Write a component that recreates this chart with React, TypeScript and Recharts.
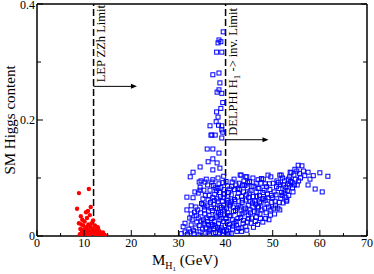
import React from 'react';
import {
  ScatterChart,
  Scatter,
  XAxis,
  YAxis,
  ReferenceLine,
  Label,
} from 'recharts';

// light singlet-like points (red dots)
const redPoints: [number, number][] = [
  [8.9, 0.074], [11.0, 0.081], [8.5, 0.047], [11.4, 0.05], [10.4, 0.041], [10.8, 0.043],
  [9.3, 0.034], [10.6, 0.031], [8.9, 0.022], [9.6, 0.028], [11.2, 0.036], [10.1, 0.025],
  [9.8, 0.018], [11.6, 0.022], [12.3, 0.018], [10.5, 0.015], [9.2, 0.012], [11.8, 0.013],
  [12.6, 0.012], [10.0, 0.008], [13.1, 0.01], [12.1, 0.008], [11.0, 0.01], [9.5, 0.006],
  [13.5, 0.006], [12.8, 0.005], [10.7, 0.004], [11.5, 0.005], [13.9, 0.003], [14.3, 0.002],
  [9.1, 0.003], [12.4, 0.002], [11.2, 0.002], [10.3, 0.001], [13.3, 0.002], [9.7, 0.001],
  [14.0, 0.006], [12.9, 0.015], [11.9, 0.027], [10.9, 0.02], [9.4, 0.02], [10.2, 0.012],
  [12.2, 0.004], [13.7, 0.001], [11.7, 0.008], [9.9, 0.004], [10.6, 0.007], [12.7, 0.009],
  [13.0, 0.004], [14.5, 0.001], [11.3, 0.016], [10.4, 0.003], [9.6, 0.01], [12.5, 0.006],
];

// blue squares: the spike just below the DELPHI limit
const blueSpike: [number, number][] = [
  [39.5, 0.352], [39.0, 0.335], [38.4, 0.333], [38.6, 0.338], [38.1, 0.317], [39.2, 0.317],
  [37.3, 0.278], [38.6, 0.281], [38.8, 0.264], [39.2, 0.246], [38.6, 0.252], [38.2, 0.248],
  [39.4, 0.23], [38.1, 0.214], [39.0, 0.22], [38.4, 0.205], [38.0, 0.197], [38.5, 0.191],
  [39.2, 0.19], [36.7, 0.19], [39.2, 0.183], [39.4, 0.179], [37.8, 0.174], [36.9, 0.174],
  [37.1, 0.174], [39.2, 0.169], [36.1, 0.15], [37.3, 0.15], [38.6, 0.143], [37.3, 0.133],
  [36.3, 0.128], [38.2, 0.126], [34.6, 0.119], [38.8, 0.117], [37.3, 0.114], [33.1, 0.11],
];

// blue squares below 40 GeV
const blueLeft: [number, number][] = [
  [30.6, 0.004], [31.0, 0.016], [31.4, 0.022], [31.4, 0.007], [31.8, 0.067], [31.8, 0.045],
  [31.9, 0.003], [32.5, 0.102], [32.5, 0.007], [32.7, 0.052], [32.7, 0.038], [32.7, 0.019],
  [32.2, 0.012], [32.9, 0.028], [32.4, 0.031], [33.1, 0.066], [33.5, 0.076], [33.7, 0.05],
  [33.7, 0.014], [33.3, 0.004], [33.9, 0.024], [33.4, 0.041], [33.8, 0.035], [33.2, 0.009],
  [34.4, 0.093], [34.8, 0.095], [34.6, 0.084], [34.2, 0.074], [34.6, 0.079], [34.2, 0.031],
  [34.6, 0.007], [34.1, 0.045], [34.9, 0.056], [34.4, 0.018], [34.8, 0.026], [34.3, 0.002],
  [34.7, 0.04], [35.6, 0.093], [35.9, 0.098], [35.4, 0.079], [35.2, 0.064], [35.6, 0.05],
  [35.6, 0.038], [35.6, 0.019], [35.1, 0.012], [35.3, 0.028], [35.8, 0.005], [35.5, 0.045],
  [35.9, 0.031], [35.2, 0.054], [35.7, 0.07], [35.4, 0.022], [35.8, 0.014], [36.7, 0.079],
  [36.3, 0.062], [36.9, 0.048], [36.9, 0.016], [36.3, 0.007], [36.5, 0.035], [36.2, 0.025],
  [36.8, 0.058], [36.4, 0.043], [36.6, 0.002], [36.1, 0.052], [36.9, 0.03], [36.5, 0.07],
  [36.2, 0.088], [36.7, 0.011], [36.4, 0.02], [37.1, 0.093], [37.3, 0.097], [37.8, 0.083],
  [37.3, 0.066], [37.8, 0.036], [37.5, 0.055], [37.2, 0.044], [37.6, 0.025], [37.4, 0.013],
  [37.9, 0.006], [37.1, 0.03], [37.7, 0.072], [37.5, 0.004], [37.9, 0.048], [37.2, 0.02],
  [37.6, 0.061], [37.4, 0.087], [37.8, 0.017], [38.4, 0.1], [38.4, 0.059], [38.1, 0.078],
  [38.5, 0.04], [38.8, 0.028], [38.3, 0.015], [38.7, 0.005], [38.9, 0.068], [38.6, 0.09],
  [38.3, 0.047], [38.8, 0.052], [38.5, 0.021], [38.9, 0.01], [38.1, 0.033], [38.7, 0.075],
  [38.4, 0.082], [38.9, 0.037], [38.6, 0.012], [38.2, 0.064], [39.0, 0.084], [39.0, 0.041],
  [39.3, 0.06], [39.6, 0.025], [39.5, 0.008], [39.8, 0.072], [39.1, 0.014], [39.7, 0.045],
  [39.4, 0.092], [39.6, 0.053], [39.2, 0.031], [39.9, 0.018], [39.5, 0.066], [39.3, 0.003],
  [39.8, 0.036], [39.7, 0.08], [39.1, 0.049], [39.6, 0.103],
];

// blue squares above 40 GeV
const blueRight: [number, number][] = [
  [40.3, 0.062], [40.5, 0.04], [40.8, 0.02], [40.2, 0.01], [40.6, 0.075], [40.1, 0.03],
  [40.9, 0.052], [40.4, 0.086], [40.7, 0.005], [40.2, 0.048], [40.8, 0.035], [40.5, 0.068],
  [40.1, 0.094], [40.6, 0.015], [40.9, 0.081], [40.3, 0.025], [40.7, 0.058], [40.4, 0.002],
  [41.4, 0.093], [41.2, 0.071], [41.6, 0.05], [41.1, 0.035], [41.8, 0.022], [41.5, 0.012],
  [41.3, 0.06], [41.9, 0.08], [41.7, 0.042], [41.2, 0.004], [41.5, 0.028], [41.9, 0.063],
  [41.3, 0.085], [41.6, 0.017], [41.0, 0.055], [41.8, 0.098], [42.2, 0.088], [42.5, 0.067],
  [42.8, 0.053], [42.1, 0.044], [42.6, 0.03], [42.3, 0.019], [42.9, 0.091], [42.4, 0.008],
  [42.7, 0.074], [42.0, 0.06], [42.9, 0.038], [42.2, 0.025], [42.6, 0.082], [42.5, 0.048],
  [42.8, 0.013], [43.1, 0.105], [43.3, 0.105], [43.8, 0.076], [43.3, 0.014], [43.5, 0.058],
  [43.9, 0.045], [43.2, 0.032], [43.6, 0.088], [43.4, 0.068], [43.7, 0.022], [43.1, 0.05],
  [43.9, 0.095], [43.5, 0.038], [43.0, 0.08], [43.8, 0.027], [43.6, 0.062], [43.4, 0.008],
  [44.5, 0.102], [44.3, 0.102], [44.3, 0.062], [44.3, 0.016], [44.6, 0.083], [44.8, 0.053],
  [44.1, 0.041], [44.9, 0.03], [44.4, 0.071], [44.7, 0.092], [44.2, 0.048], [44.6, 0.024],
  [44.9, 0.066], [44.1, 0.087], [44.8, 0.036], [44.5, 0.01], [45.8, 0.1], [45.0, 0.074],
  [45.4, 0.022], [45.8, 0.05], [45.2, 0.06], [45.6, 0.085], [45.3, 0.04], [45.9, 0.068],
  [45.5, 0.031], [45.1, 0.094], [45.7, 0.057], [45.4, 0.078], [45.9, 0.015], [45.2, 0.045],
  [46.5, 0.091], [46.5, 0.076], [46.5, 0.033], [46.9, 0.097], [46.2, 0.06], [46.8, 0.05],
  [46.1, 0.042], [46.6, 0.068], [46.3, 0.025], [46.9, 0.082], [46.4, 0.055], [46.7, 0.04],
  [46.0, 0.086], [46.8, 0.02], [47.5, 0.091], [47.5, 0.057], [47.9, 0.024], [47.2, 0.07],
  [47.7, 0.045], [47.1, 0.082], [47.8, 0.064], [47.3, 0.038], [47.6, 0.099], [47.0, 0.05],
  [47.4, 0.03], [47.9, 0.075], [47.2, 0.059], [48.2, 0.079], [48.6, 0.04], [48.1, 0.065],
  [48.4, 0.09], [48.8, 0.055], [48.3, 0.048], [48.9, 0.072], [48.5, 0.03], [48.7, 0.085],
  [48.0, 0.098], [48.4, 0.062], [49.0, 0.105], [49.6, 0.102], [49.0, 0.066], [49.6, 0.045],
  [49.2, 0.028], [49.4, 0.08], [49.8, 0.058], [49.3, 0.09], [49.7, 0.07], [49.1, 0.05],
  [49.5, 0.036], [50.1, 0.091], [50.3, 0.076], [50.7, 0.071], [50.5, 0.06], [50.2, 0.048],
  [50.8, 0.085], [50.4, 0.038], [50.9, 0.095], [50.6, 0.052], [50.0, 0.066], [51.5, 0.105],
  [51.8, 0.105], [51.1, 0.048], [51.5, 0.045], [51.3, 0.082], [51.7, 0.065], [51.2, 0.092],
  [51.9, 0.075], [51.4, 0.058], [51.6, 0.088], [52.8, 0.084], [52.4, 0.074], [52.8, 0.066],
  [52.2, 0.057], [52.5, 0.095], [52.1, 0.1], [52.6, 0.079], [52.9, 0.06], [52.3, 0.088],
  [52.0, 0.07], [53.7, 0.11], [53.9, 0.109], [53.0, 0.062], [53.3, 0.098], [53.5, 0.088],
  [53.1, 0.078], [53.8, 0.094], [53.4, 0.07], [53.6, 0.102], [53.2, 0.09], [54.3, 0.076],
  [54.5, 0.105], [54.1, 0.092], [54.7, 0.115], [54.2, 0.083], [54.8, 0.098], [54.6, 0.088],
  [55.4, 0.122], [55.2, 0.088], [55.7, 0.108], [55.9, 0.1], [55.1, 0.112], [55.5, 0.095],
  [56.2, 0.121], [56.5, 0.112], [56.8, 0.104], [57.5, 0.11], [57.5, 0.088], [57.9, 0.098],
  [58.6, 0.104], [59.0, 0.081], [60.0, 0.109], [60.5, 0.076], [61.7, 0.103],
];

const xTicks = [0, 5, 10, 15, 20, 25, 30, 35, 40, 45, 50, 55, 60, 65, 70];
const yTicks = [0, 0.1, 0.2, 0.3, 0.4];
const yLabels = ['0', '', '0.2', '', '0.4'];

const lepLimit = 12;
const lepArrow = { y: 0.258, to: 21.2 };
const delphiLimit = 40;
const delphiArrow = { y: 0.166, to: 49.1 };

const FONT = 'Liberation Serif, Times New Roman, serif';

const toData = (pts: [number, number][]) => pts.map(([x, y]) => ({ x, y }));
const redData = toData(redPoints);
const blueData = toData([...blueSpike, ...blueLeft, ...blueRight]);

const RedDot = (p: any) => <circle cx={p.cx} cy={p.cy} r={2.2} fill="#ff0000" />;
const BlueSquare = (p: any) => (
  <rect x={p.cx - 2} y={p.cy - 2} width={4} height={4} fill="none" stroke="#0000ff" strokeWidth={1} />
);

const isMajorX = (v: number) => v % 10 === 0;

const BottomTick = (p: any) => {
  const v = p.payload.value;
  const major = isMajorX(v);
  return (
    <g>
      <line x1={p.x} y1={p.y} x2={p.x} y2={p.y - (major ? 6 : 3)} stroke="#000" />
      {major && (
        <text x={p.x} y={p.y + 11} textAnchor="middle" fontSize={12} fontFamily={FONT} fill="#000">
          {v}
        </text>
      )}
    </g>
  );
};

const TopTick = (p: any) => {
  const major = isMajorX(p.payload.value);
  return <line x1={p.x} y1={p.y} x2={p.x} y2={p.y + (major ? 6 : 3)} stroke="#000" />;
};

const LeftTick = (p: any) => {
  const label = yLabels[p.index];
  const major = label !== '';
  const last = p.index === yTicks.length - 1;
  return (
    <g>
      <line x1={p.x} y1={p.y} x2={p.x + (major ? 6 : 4)} y2={p.y} stroke="#000" />
      {major && (
        <text x={p.x - 2} y={p.y + (last ? 5 : 4)} textAnchor="end" fontSize={12} fontFamily={FONT} fill="#000">
          {label}
        </text>
      )}
    </g>
  );
};

const RightTick = (p: any) => {
  const major = yLabels[p.index] !== '';
  return <line x1={p.x} y1={p.y} x2={p.x - (major ? 6 : 4)} y2={p.y} stroke="#000" />;
};

// horizontal arrow with the rotated limit text sitting on it
const makeArrow = (text: React.ReactNode) => (p: any) => {
  const { x1, y1, x2, y2 } = p;
  return (
    <g>
      <line x1={x1} y1={y1} x2={x2 - 4} y2={y2} stroke="#000" strokeWidth={1} />
      <polygon points={`${x2},${y2} ${x2 - 6},${y2 - 2.5} ${x2 - 6},${y2 + 2.5}`} fill="#000" />
      <text
        transform={`translate(${x1 + 11.5}, ${y1 - 4}) rotate(-90)`}
        fontSize={12.5}
        fontFamily={FONT}
        fill="#000"
      >
        {text}
      </text>
    </g>
  );
};

const lepShape = makeArrow('LEP ZZh Limit');
const delphiShape = makeArrow(
  <>
    DELPHI H
    <tspan fontSize={9} dy={3}>1</tspan>
    <tspan dy={-3}> {'->'} inv. Limit</tspan>
  </>
);

const YTitle = (p: any) => {
  const vb = p.viewBox;
  return (
    <text
      transform={`translate(${vb.x + vb.width - 22}, ${vb.y + vb.height / 2}) rotate(-90)`}
      textAnchor="middle"
      fontSize={15}
      fontFamily={FONT}
      fill="#000"
    >
      SM Higgs content
    </text>
  );
};

const XTitle = (p: any) => {
  const vb = p.viewBox;
  return (
    <text x={vb.x + 115} y={vb.y + 29} fontSize={15} fontFamily={FONT} fill="#000">
      M
      <tspan fontSize={10} dy={4}>H</tspan>
      <tspan fontSize={7} dy={2}>1</tspan>
      <tspan fontSize={15} dy={-6}> (GeV)</tspan>
    </text>
  );
};

const axisLine = { stroke: '#000', strokeWidth: 1.5 };

export default function App() {
  return (
    <div style={{ position: 'absolute', left: 0, top: 0, background: '#fff' }}>
      <ScatterChart width={374} height={274} margin={{ top: 3, right: 6, bottom: 37, left: 36 }}>
        <XAxis
          type="number"
          dataKey="x"
          domain={[0, 70]}
          ticks={xTicks}
          interval={0}
          height={1}
          tickSize={0}
          tickMargin={0}
          tickLine={false}
          axisLine={axisLine}
          tick={BottomTick}
          allowDataOverflow
        >
          <Label content={XTitle} />
        </XAxis>
        <XAxis
          xAxisId="top"
          orientation="top"
          type="number"
          domain={[0, 70]}
          ticks={xTicks}
          interval={0}
          height={1}
          tickSize={0}
          tickMargin={0}
          tickLine={false}
          axisLine={axisLine}
          tick={TopTick}
          allowDataOverflow
        />
        <YAxis
          type="number"
          dataKey="y"
          domain={[0, 0.4]}
          ticks={yTicks}
          interval={0}
          width={1}
          tickSize={0}
          tickMargin={0}
          tickLine={false}
          axisLine={axisLine}
          tick={LeftTick}
          allowDataOverflow
        >
          <Label content={YTitle} />
        </YAxis>
        <YAxis
          yAxisId="right"
          orientation="right"
          type="number"
          domain={[0, 0.4]}
          ticks={yTicks}
          interval={0}
          width={1}
          tickSize={0}
          tickMargin={0}
          tickLine={false}
          axisLine={axisLine}
          tick={RightTick}
          allowDataOverflow
        />
        <Scatter data={blueData} shape={BlueSquare} isAnimationActive={false} />
        <Scatter data={redData} shape={RedDot} isAnimationActive={false} />
        <ReferenceLine x={lepLimit} stroke="#000" strokeWidth={1.5} strokeDasharray="7 3" />
        <ReferenceLine x={delphiLimit} stroke="#000" strokeWidth={1.5} strokeDasharray="7 3" />
        <ReferenceLine
          segment={[{ x: lepLimit, y: lepArrow.y }, { x: lepArrow.to, y: lepArrow.y }]}
          shape={lepShape}
          ifOverflow="visible"
        />
        <ReferenceLine
          segment={[{ x: delphiLimit, y: delphiArrow.y }, { x: delphiArrow.to, y: delphiArrow.y }]}
          shape={delphiShape}
          ifOverflow="visible"
        />
      </ScatterChart>
    </div>
  );
}
